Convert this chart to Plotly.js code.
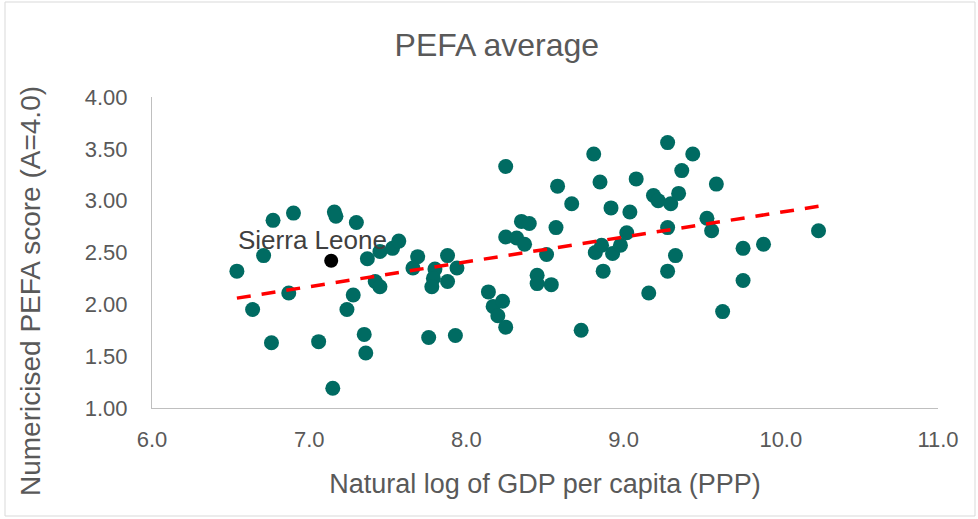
<!DOCTYPE html>
<html>
<head>
<meta charset="utf-8">
<script src="https://cdn.plot.ly/plotly-3.0.1.min.js"></script>
<style>
html,body{margin:0;padding:0;background:#fff;}
#chart{width:978px;height:519px;}
</style>
</head>
<body>
<div id="chart"></div>
<script>
// Natural log of GDP per capita (PPP)
const gdpLog = [6.54,6.64,6.71,6.76,6.77,6.87,6.90,7.06,7.15,7.16,7.17,7.30,7.24,7.28,7.35,7.36,7.37,7.42,7.45,7.45,
  7.53,7.57,7.69,7.66,7.76,7.80,7.79,7.78,7.88,7.88,7.94,7.93,8.14,8.17,8.20,8.23,8.25,8.25,8.25,8.32,
  8.37,8.35,8.40,8.45,8.45,8.51,8.54,8.57,8.58,8.67,8.73,8.81,8.82,8.85,8.86,8.87,8.92,8.93,8.98,9.02,
  9.04,9.08,9.16,9.19,9.22,9.28,9.28,9.28,9.30,9.33,9.35,9.37,9.44,9.53,9.56,9.59,9.63,9.76,9.76,9.89,10.24];
// Numericised PEFA score
const pefaScore = [2.32,1.95,2.47,1.63,2.81,2.11,2.88,1.64,1.19,2.89,2.85,2.79,1.95,2.09,1.71,1.53,2.44,2.22,2.17,2.51,
  2.54,2.61,2.46,2.35,1.68,2.34,2.25,2.17,2.47,2.22,2.35,1.70,2.12,1.98,1.89,2.03,1.78,3.33,2.65,2.64,
  2.58,2.80,2.78,2.28,2.20,2.48,2.19,2.74,3.14,2.97,1.75,3.45,2.50,3.18,2.57,2.32,2.93,2.49,2.57,2.69,
  2.89,3.21,2.11,3.05,3.00,3.56,2.74,2.32,2.97,2.47,3.07,3.29,3.45,2.83,2.71,3.16,1.93,2.54,2.23,2.58,2.71];
// Highlighted country
const highlightName = ["Sierra Leone"];
const highlightX = [7.14];
const highlightY = [2.42];
// Axis ticks
const xTicks = [6,7,8,9,10,11];
const xTickText = ["6.0","7.0","8.0","9.0","10.0","11.0"];
const yTicks = [1,1.5,2,2.5,3,3.5,4];
const yTickText = ["1.00","1.50","2.00","2.50","3.00","3.50","4.00"];
const yTitleText = "Numericised PEFA score (A=4.0)";

// Linear trendline (least squares) over the country points
const n = gdpLog.length;
const mx = gdpLog.reduce((a,b)=>a+b,0)/n;
const my = pefaScore.reduce((a,b)=>a+b,0)/n;
let sxy=0, sxx=0;
for(let i=0;i<n;i++){sxy+=(gdpLog[i]-mx)*(pefaScore[i]-my); sxx+=(gdpLog[i]-mx)**2;}
const slope = sxy/sxx, icpt = my - slope*mx;
const xMin = Math.min(...gdpLog), xMax = Math.max(...gdpLog);
const trendX = [xMin, xMax];
const trendY = trendX.map(v=>icpt+slope*v);

const font = "Liberation Sans, Arial, sans-serif";
const grey = "#595959";

const traces = [
  {x: gdpLog, y: pefaScore, type:"scatter", mode:"markers",
   marker:{color:"#006b62", size:15, line:{width:0}}, hoverinfo:"x+y", showlegend:false},
  {x: trendX, y: trendY, type:"scatter", mode:"lines",
   line:{color:"#ff0000", width:3.5, dash:"14px,11px"}, showlegend:false, hoverinfo:"skip"},
  {x: highlightX, y: highlightY, type:"scatter", mode:"markers",
   marker:{color:"#000000", size:14}, text: highlightName, showlegend:false}
];

const layout = {
  width:978, height:519,
  margin:{l:152, r:40, t:97, b:111},
  paper_bgcolor:"#ffffff", plot_bgcolor:"#ffffff",
  font:{family:font, color:grey, size:22},
  title:{text:"PEFA average", font:{family:font, size:32, color:grey}, x:0.508, xanchor:"center", y:0.913, yanchor:"middle"},
  xaxis:{range:[6,11], tickvals:xTicks, ticktext:xTickText, showgrid:false, zeroline:false,
    showline:true, linecolor:"#bfbfbf", linewidth:1, ticks:"", ticklabelstandoff:12,
    tickfont:{family:font, size:22, color:grey},
    title:{text:"Natural log of GDP per capita (PPP)", font:{family:font, size:27, color:grey}, standoff:22}},
  yaxis:{range:[1,4], tickvals:yTicks, ticktext:yTickText, showgrid:false, zeroline:false,
    showline:true, linecolor:"#bfbfbf", linewidth:1, ticks:"", ticklabelstandoff:19,
    tickfont:{family:font, size:22, color:grey}},
  annotations:[
    {x:highlightX[0], y:highlightY[0], text:highlightName[0], showarrow:false,
     xshift:-19, yshift:21, font:{family:font, size:26, color:"#404040"}},
    {xref:"paper", yref:"paper", x:(30-152)/786, y:(408-291)/311, text:yTitleText, textangle:-90,
     showarrow:false, xanchor:"center", yanchor:"middle", font:{family:font, size:28, color:grey}}
  ],
  shapes:[{type:"rect", xref:"paper", yref:"paper",
    x0:-147/786, x1:1+37/786, y0:-108/311, y1:1+95/311,
    line:{color:"#d9d9d9", width:1}, fillcolor:"rgba(0,0,0,0)", layer:"below"}]
};

Plotly.newPlot("chart", traces, layout, {displayModeBar:false, staticPlot:true});
</script>
</body>
</html>
